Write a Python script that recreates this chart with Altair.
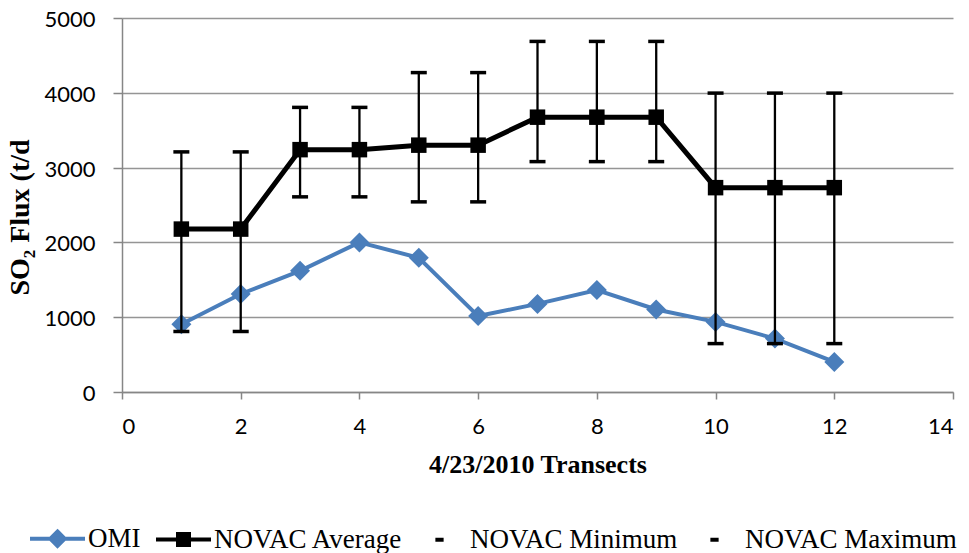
import altair as alt
import pandas as pd

# ---- data ----
transect = [1, 2, 3, 4, 5, 6, 7, 8, 9, 10, 11, 12]
omi = [905, 1310, 1620, 2000, 1795, 1015, 1178, 1362, 1103, 937, 714, 402]
novac_avg = [2178, 2178, 3240, 3240, 3300, 3300, 3674, 3674, 3674, 2732, 2732, 2732]
novac_min = [809, 809, 2609, 2609, 2542, 2542, 3080, 3080, 3080, 647, 647, 647]
novac_max = [3210, 3210, 3805, 3805, 4270, 4270, 4687, 4687, 4687, 3996, 3996, 3996]

series_names = ["OMI", "NOVAC Average", "NOVAC Minimum", "NOVAC Maximum"]
x_ticks = [0, 2, 4, 6, 8, 10, 12, 14]
y_ticks = [0, 500, 1000, 1500, 2000, 2500, 3000, 3500, 4000, 4500, 5000]

BLUE = "#4a7ebb"
AXIS_GRAY = "#868686"
GRID_GRAY = "#959595"

series_colors = [BLUE, "#000000", "#000000", "#000000"]
legend_shapes = [
    "M-1,0H1M0,-0.26L0.26,0L0,0.26L-0.26,0Z",
    "M-1,0H1M-0.2,-0.2H0.2V0.2H-0.2Z",
    "M-0.15,0H0.15",
    "M-0.15,0H0.15",
]

df = pd.DataFrame({
    "transect": transect,
    "omi": omi,
    "avg": novac_avg,
    "lo": novac_min,
    "hi": novac_max,
})

x_scale = alt.Scale(domain=[0, 14], nice=False, zero=False)
y_scale = alt.Scale(domain=[0, 5000], nice=False)

x_enc = alt.X(
    "transect:Q",
    scale=x_scale,
    axis=alt.Axis(
        values=x_ticks,
        format="d",
        grid=False,
        title="4/23/2010 Transects",
        titleFont="Liberation Serif",
        titleFontSize=26,
        titleFontWeight="bold",
        titleColor="black",
        titleBaseline="alphabetic",
        titleY=80,
        labelFont="Lato",
        labelFontSize=22,
        labelColor="black",
        labelBaseline="alphabetic",
        labelPadding=34,
        tickSize=7,
        tickColor=AXIS_GRAY,
        tickWidth=1.5,
        domainColor=AXIS_GRAY,
        domainWidth=1.5,
    ),
)

y_axis = alt.Axis(
    values=y_ticks,
    format="d",
    grid=True,
    gridColor=GRID_GRAY,
    gridWidth=1.5,
    title="SO\u2082 Flux (t/d",
    titleFont="Liberation Serif",
    titleFontSize=28,
    titleFontWeight="bold",
    titleColor="black",
    titleBaseline="alphabetic",
    titleX=-94,
    titleY=199,
    labelFont="Lato",
    labelFontSize=22,
    labelColor="black",
    labelBaseline="alphabetic",
    labelOffset=8.5,
    labelPadding=18,
    tickSize=9,
    tickColor=AXIS_GRAY,
    tickWidth=1.5,
    domainColor=AXIS_GRAY,
    domainWidth=1.5,
)

base = alt.Chart(df)

omi_line = base.mark_line(color=BLUE, strokeWidth=4).encode(
    x=x_enc, y=alt.Y("omi:Q", scale=y_scale, axis=y_axis)
)
omi_pts = base.mark_point(shape="diamond", filled=True, color=BLUE, size=400, opacity=1).encode(
    x="transect:Q", y="omi:Q"
)
avg_line = base.mark_line(color="black", strokeWidth=5).encode(x="transect:Q", y="avg:Q")
err = base.mark_rule(color="black", strokeWidth=2.3).encode(x="transect:Q", y="lo:Q", y2="hi:Q")
cap_lo = base.mark_point(shape="stroke", filled=False, color="black", size=256,
                         strokeWidth=3.5, opacity=1).encode(x="transect:Q", y="lo:Q")
cap_hi = base.mark_point(shape="stroke", filled=False, color="black", size=256,
                         strokeWidth=3.5, opacity=1).encode(x="transect:Q", y="hi:Q")
avg_pts = base.mark_point(shape="square", filled=True, color="black", size=240, opacity=1).encode(
    x="transect:Q", y="avg:Q"
)

leg = alt.Legend(
    title=None,
    orient="none",
    legendX=-94,
    legendY=491,
    direction="horizontal",
    symbolSize=3025,
    symbolStrokeWidth=4,
    symbolOpacity=1,
    labelFont="Liberation Serif",
    labelFontSize=27,
    labelColor="black",
    labelOffset=1,
    labelLimit=500,
    columnPadding=7,
)

legend_df = pd.DataFrame({"series": series_names})
legend_layer = (
    alt.Chart(legend_df)
    .transform_filter("false")
    .mark_point(opacity=1, strokeWidth=4)
    .encode(
        fill=alt.Fill("series:N", scale=alt.Scale(domain=series_names, range=series_colors), legend=leg),
        stroke=alt.Stroke("series:N", scale=alt.Scale(domain=series_names, range=series_colors), legend=leg),
        shape=alt.Shape("series:N", scale=alt.Scale(domain=series_names, range=legend_shapes), legend=leg),
    )
)

chart = (
    alt.layer(omi_line, omi_pts, avg_line, err, cap_lo, cap_hi, avg_pts, legend_layer)
    .properties(
        width=831,
        height=374,
        autosize=alt.AutoSizeParams(type="none"),
        padding={"left": 114, "top": 10, "right": 8, "bottom": 161},
        background="white",
    )
    .configure_view(strokeWidth=0)
)

chart.save("out.html", embed_options={"renderer": "svg", "actions": False})
